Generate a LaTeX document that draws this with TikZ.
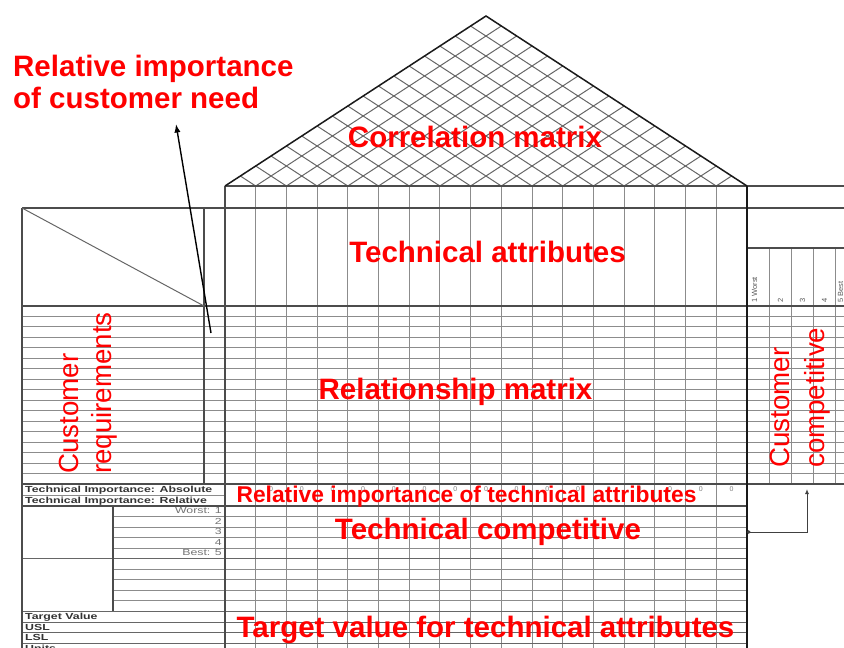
\documentclass[tikz,border=0pt]{standalone}
\usepackage{graphicx}
\usepackage{fontspec}
\setmainfont{Liberation Sans}
\usepackage{tikz}
\usetikzlibrary{arrows.meta}
\definecolor{labelred}{RGB}{255,0,0}
\newcommand{\widetext}[1]{\scalebox{1.4}[1]{#1}}
\tikzstyle{gridline}=[draw=black!45, line width=1pt]
\tikzstyle{boxline}=[draw=black!70, line width=1.2pt]
\tikzstyle{heavyline}=[draw=black!90, line width=1.5pt]
\tikzstyle{biglabel}=[text=labelred, font=\fontsize{29.5}{32}\selectfont\bfseries, inner sep=0pt, anchor=base]
\tikzstyle{sidelabel}=[text=labelred, font=\fontsize{27.7}{32}\selectfont, inner sep=0pt, rotate=90, anchor=base west]
\tikzstyle{formlabel}=[text=black!80, font=\fontsize{8.8}{9}\selectfont\bfseries, inner sep=0pt, anchor=base west]
\tikzstyle{scalelabel}=[text=black!55, font=\fontsize{8.8}{9}\selectfont, inner sep=0pt, anchor=base east]
\tikzstyle{ranklabel}=[text=black!65, font=\fontsize{7.5}{8}\selectfont, inner sep=0pt, rotate=90, anchor=base west]
\tikzstyle{zerolabel}=[text=black!50, font=\fontsize{7}{7}\selectfont, inner sep=0pt, anchor=base]
\tikzstyle{arrow}=[draw=black, line width=1.4pt, -{Latex[length=3mm, width=2.2mm]}]
\tikzstyle{linkarrow}=[draw=black!75, line width=0.9pt, {Circle[length=3.5pt]}-{Latex[length=5pt, width=4pt]}]

\begin{document}
\begin{tikzpicture}[x=1pt, y=-1pt]
		   \useasboundingbox (0,0) rectangle (844,648);
		   \begin{scope}
			   \coordinate (roofleft) at (225,186);
			   \coordinate (roofapex) at (486,16);
			   \coordinate (roofright) at (747,186);
			   \clip (roofleft) -- (roofapex) -- (roofright) -- cycle;
			   \foreach \k in {1,...,16} {
				   \draw[gridline, draw=black!60] ({225+30.7*\k},186) -- ++(261,-170);
				   \draw[gridline, draw=black!60] ({225+30.7*\k},186) -- ++(-261,-170);
			   }
		   \end{scope}
		   \begin{scope}
			   \foreach \k in {1,...,16}
				   \draw[gridline] ({225+30.7*\k},186) -- ({225+30.7*\k},648);
			   \foreach \i in {1,...,16}
				   \draw[gridline] (22,{306+10.47*\i}) -- (844,{306+10.47*\i});
			   \foreach \i in {1,2,3,4,6,7,8,9}
				   \draw[gridline] (113,{506+10.55*\i}) -- (747,{506+10.55*\i});
			   \foreach \i in {5,10,11,12,13}
				   \draw[gridline, draw=black!60] (22,{506+10.55*\i}) -- (747,{506+10.55*\i});
			   \foreach \x in {769,791,813,835}
				   \draw[gridline] (\x,248) -- (\x,484);
		   \end{scope}
		   \begin{scope}
			   \draw[boxline] (225,186) -- (844,186);
			   \draw[boxline] (22,208) -- (844,208);
			   \draw[boxline] (747,248) -- (844,248);
			   \draw[boxline] (22,306) -- (844,306);
			   \draw[boxline] (22,484) -- (844,484);
			   \draw[gridline] (22,495) -- (225,495);
			   \draw[boxline] (22,506) -- (747,506);
			   \draw[boxline] (22,208) -- (22,648);
			   \draw[boxline] (204,208) -- (204,484);
			   \draw[boxline] (225,186) -- (225,648);
			   \draw[boxline] (113,506) -- (113,611);
			   \draw[gridline, draw=black!60] (22,208) -- (204,306);
			   \draw[heavyline] (747,186) -- (747,648);
			   \draw[heavyline] (roofleft) -- (roofapex) -- (roofright);
		   \end{scope}
		   \begin{scope}
			   \node (absolute) at (25,492)[formlabel] {\widetext{Technical Importance: Absolute}};
			   \node (relative) at (25,503)[formlabel] {\widetext{Technical Importance: Relative}};
			   \node (worst) at (222,513)[scalelabel] {\widetext{Worst: 1}};
			   \node (rank2) at (222,524)[scalelabel] {\widetext{2}};
			   \node (rank3) at (222,534)[scalelabel] {\widetext{3}};
			   \node (rank4) at (222,545)[scalelabel] {\widetext{4}};
			   \node (best) at (222,555)[scalelabel] {\widetext{Best: 5}};
			   \node (target) at (25,619)[formlabel] {\widetext{Target Value}};
			   \node (usl) at (25,630)[formlabel] {\widetext{USL}};
			   \node (lsl) at (25,640)[formlabel] {\widetext{LSL}};
			   \node (units) at (25,651)[formlabel] {\widetext{Units}};
			   \node (col1) at (757,303)[ranklabel] {1 Worst};
			   \node (col2) at (783,303)[ranklabel] {2};
			   \node (col3) at (805,303)[ranklabel] {3};
			   \node (col4) at (827,303)[ranklabel] {4};
			   \node (col5) at (843,303)[ranklabel] {5 Best};
			   \foreach \k in {0,...,16}
				   \node (zero\k) at ({240.35+30.7*\k},491)[zerolabel] {0};
		   \end{scope}
		   \begin{scope}
			   \node (needlabel) at (13,54.5)[biglabel, anchor=north west, align=left] {Relative importance\\of customer need};
			   \node (correlation) at (475,147)[biglabel] {Correlation matrix};
			   \node (attributes) at (487.5,262)[biglabel] {Technical attributes};
			   \node (relationship) at (455.5,399)[biglabel] {Relationship matrix};
			   \node (importance) at (466.5,502)[biglabel, font=\fontsize{22.8}{26}\selectfont\bfseries] {Relative importance of technical attributes};
			   \node (competitive) at (488,539)[biglabel] {Technical competitive};
			   \node (targetvalue) at (485.5,637)[biglabel] {Target value for technical attributes};
			   \node (custreq1) at (78,474)[sidelabel] {Customer};
			   \node (custreq2) at (111,474)[sidelabel] {requirements};
			   \node (custcomp1) at (789,468)[sidelabel] {Customer};
			   \node (custcomp2) at (824,468)[sidelabel] {competitive};
		   \end{scope}
		   \begin{scope}
			   \coordinate (needfoot) at (211,333);
			   \coordinate (needtip) at (176,124);
			   \coordinate (techcomp) at (747,532);
			   \coordinate (custcomp) at (807,489);
			   \draw[arrow] (needfoot) -- (needtip);
			   \draw[linkarrow] (techcomp) -| (custcomp);
		   \end{scope}
\end{tikzpicture}
\end{document}
